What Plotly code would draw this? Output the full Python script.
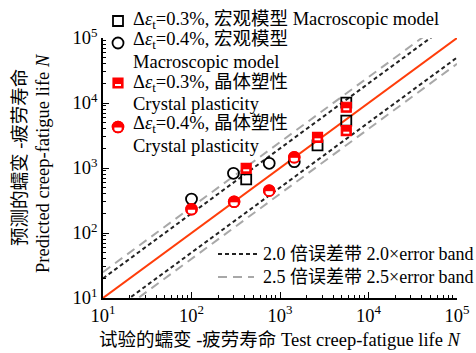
import plotly.graph_objects as go

# ---------------- data ----------------
macro03_test = [415, 2655, 5610, 5610]
macro03_pred = [670, 2230, 10100, 5350]
macro04_test = [100, 298, 755, 1450]
macro04_pred = [333, 828, 1180, 1250]
cp03_test = [415, 2655, 5610, 5610]
cp03_pred = [990, 2965, 8600, 3750]
cp04_test = [100, 303, 755, 1450]
cp04_pred = [232, 302, 448, 1460]

line_x = [10, 100000]
band20_factors = [2.0, 0.5]
band25_factors = [2.5, 0.4]

tick_vals = [10, 100, 1000, 10000, 100000]
tick_text = ['10<sup>1</sup>', '10<sup>2</sup>', '10<sup>3</sup>', '10<sup>4</sup>', '10<sup>5</sup>']
minor_vals = [k * 10 ** d for d in range(1, 5) for k in range(2, 10)]

legend_labels = [
    'Δ<i>ε</i><sub>t</sub>=0.3%, 宏观模型 Macroscopic model',
    'Δ<i>ε</i><sub>t</sub>=0.4%, 宏观模型',
    'Macroscopic model',
    'Δ<i>ε</i><sub>t</sub>=0.3%, 晶体塑性',
    'Crystal plasticity',
    'Δ<i>ε</i><sub>t</sub>=0.4%, 晶体塑性',
    'Crystal plasticity',
]
band_labels = ['2.0 倍误差带 2.0×error band', '2.5 倍误差带 2.5×error band']
x_title = '试验的蠕变 -疲劳寿命 Test creep-fatigue life <i>N</i>'
y_title_cn = '预测的蠕变 -疲劳寿命'
y_title_en = 'Predicted creep-fatigue life <i>N</i>'

# ---------------- layout geometry ----------------
W, H = 476, 353
L, R, T, B = 103, 457, 38, 298
FONT = 'Liberation Serif, Times New Roman, Noto Sans CJK SC, serif'
FS = 18.5
FS_BAND = 18
RED = '#FF0000'
LINE_RED = '#FF3D0A'
px_per_dec = (B - T) / 4.0


def off(vals, pix):
    f = 10 ** (pix / px_per_dec)
    return [v / f for v in vals]


fig = go.Figure()

# reference lines
fig.add_trace(go.Scatter(x=line_x, y=line_x, mode='lines',
                         line=dict(color=LINE_RED, width=2), hoverinfo='skip', showlegend=False))
for fct in band25_factors:
    fig.add_trace(go.Scatter(x=line_x, y=[fct * v for v in line_x], mode='lines',
                             line=dict(color='#A8A8A8', width=2, dash='9px,6px'),
                             hoverinfo='skip', showlegend=False))
for fct in band20_factors:
    fig.add_trace(go.Scatter(x=line_x, y=[fct * v for v in line_x], mode='lines',
                             line=dict(color='#222222', width=2, dash='4px,3px'),
                             hoverinfo='skip', showlegend=False))


def add_markers(xs, ys, kind, xaxis='x', yaxis='y', shift=None):
    common = dict(mode='markers', hoverinfo='skip', showlegend=False, xaxis=xaxis, yaxis=yaxis,
                  cliponaxis=False)
    if shift is None:
        shift = lambda v, p: off(v, p)
    if kind == 'sq':
        fig.add_trace(go.Scatter(x=xs, y=ys, marker=dict(symbol='square-open', size=10, color='black',
                                                         line=dict(width=1.8, color='black')), **common))
    elif kind == 'ci':
        fig.add_trace(go.Scatter(x=xs, y=ys, marker=dict(symbol='circle-open', size=11, color='black',
                                                         line=dict(width=1.8, color='black')), **common))
    elif kind == 'hsq':
        fig.add_trace(go.Scatter(x=xs, y=ys, marker=dict(symbol='square', size=10, color=RED,
                                                         line=dict(width=1.2, color=RED)), **common))
        fig.add_trace(go.Scatter(x=xs, y=shift(ys, 2.0), marker=dict(symbol='line-ew', size=4.3, color='white',
                                                                    line=dict(width=2, color='white')), **common))
    elif kind == 'hci':
        fig.add_trace(go.Scatter(x=xs, y=ys, marker=dict(symbol='circle', size=11, color=RED,
                                                         line=dict(width=1.4, color=RED)), **common))
        fig.add_trace(go.Scatter(x=xs, y=shift(ys, 2.4), marker=dict(symbol='line-ew', size=5.2, color='white',
                                                                    line=dict(width=3.8, color='white')), **common))
        fig.add_trace(go.Scatter(x=xs, y=ys, marker=dict(symbol='circle-open', size=11, color=RED,
                                                         line=dict(width=1.6, color=RED)), **common))


add_markers(macro03_test, macro03_pred, 'sq')
add_markers(macro04_test, macro04_pred, 'ci')
add_markers(cp03_test, cp03_pred, 'hsq')
add_markers(cp04_test, cp04_pred, 'hci')

# ---------------- custom legend (pixel overlay axes) ----------------
pix_shift = lambda v, p: [a + p for a in v]
leg_x = 118
leg_text_x = 131
row_y = [20, 41, 62, 83, 104, 125, 146]
marker_rows = [(0, 'sq', 21), (1, 'ci', 43), (3, 'hsq', 83), (5, 'hci', 127)]
for _, kind, yy in marker_rows:
    add_markers([leg_x], [yy], kind, xaxis='x2', yaxis='y2', shift=pix_shift)

fig.add_trace(go.Scatter(x=[218, 258], y=[254, 254], mode='lines', xaxis='x2', yaxis='y2',
                         line=dict(color='#222222', width=2, dash='4px,3px'), hoverinfo='skip', showlegend=False))
fig.add_trace(go.Scatter(x=[218, 254], y=[277, 277], mode='lines', xaxis='x2', yaxis='y2',
                         line=dict(color='#A8A8A8', width=2, dash='9px,6px'), hoverinfo='skip', showlegend=False))

annotations = []
for txt, yy in zip(legend_labels, row_y):
    annotations.append(dict(x=leg_text_x / W, y=1 - yy / H, xref='paper', yref='paper', text=txt,
                            showarrow=False, xanchor='left', yanchor='middle',
                            font=dict(family=FONT, size=FS, color='black')))
for txt, yy in zip(band_labels, [254, 277]):
    annotations.append(dict(x=261 / W, y=1 - yy / H, xref='paper', yref='paper', text=txt,
                            showarrow=False, xanchor='left', yanchor='middle',
                            font=dict(family=FONT, size=FS_BAND, color='black')))
annotations.append(dict(x=464 / W, y=1 - 340 / H, xref='paper', yref='paper', text=x_title,
                        showarrow=False, xanchor='right', yanchor='middle',
                        font=dict(family=FONT, size=FS, color='black')))
annotations.append(dict(x=20 / W, y=1 - 158 / H, xref='paper', yref='paper', text=y_title_cn,
                        showarrow=False, xanchor='center', yanchor='middle', textangle=-90,
                        font=dict(family=FONT, size=FS, color='black')))
annotations.append(dict(x=43 / W, y=1 - 163 / H, xref='paper', yref='paper', text=y_title_en,
                        showarrow=False, xanchor='center', yanchor='middle', textangle=-90,
                        font=dict(family=FONT, size=FS, color='black')))

axis_common = dict(type='log', range=[1, 5], showline=True, linecolor='black', linewidth=1.5,
                   ticks='inside', ticklen=6, tickwidth=1.3, tickcolor='black',
                   showgrid=False, zeroline=False, mirror=False,
                   tickvals=tick_vals, ticktext=tick_text,
                   tickfont=dict(family=FONT, size=FS, color='black'),
                   minor=dict(tickvals=minor_vals, ticks='inside', ticklen=3, tickwidth=1,
                              tickcolor='black', showgrid=False),
                   automargin=False)

fig.update_layout(
    width=W, height=H, autosize=False,
    margin=dict(l=0, r=0, t=0, b=0, pad=0),
    paper_bgcolor='white', plot_bgcolor='rgba(0,0,0,0)',
    showlegend=False,
    xaxis=dict(domain=[L / W, R / W], anchor='y', **axis_common),
    yaxis=dict(domain=[1 - B / H, 1 - T / H], anchor='x', **axis_common),
    xaxis2=dict(domain=[0, 1], range=[0, W], visible=False, anchor='y2', fixedrange=True),
    yaxis2=dict(domain=[0, 1], range=[H, 0], visible=False, anchor='x2', fixedrange=True),
    annotations=annotations,
)

fig.write_html('out.html', config={'displayModeBar': False},
               post_script="document.body.style.margin='0';document.body.style.overflow='hidden';")
